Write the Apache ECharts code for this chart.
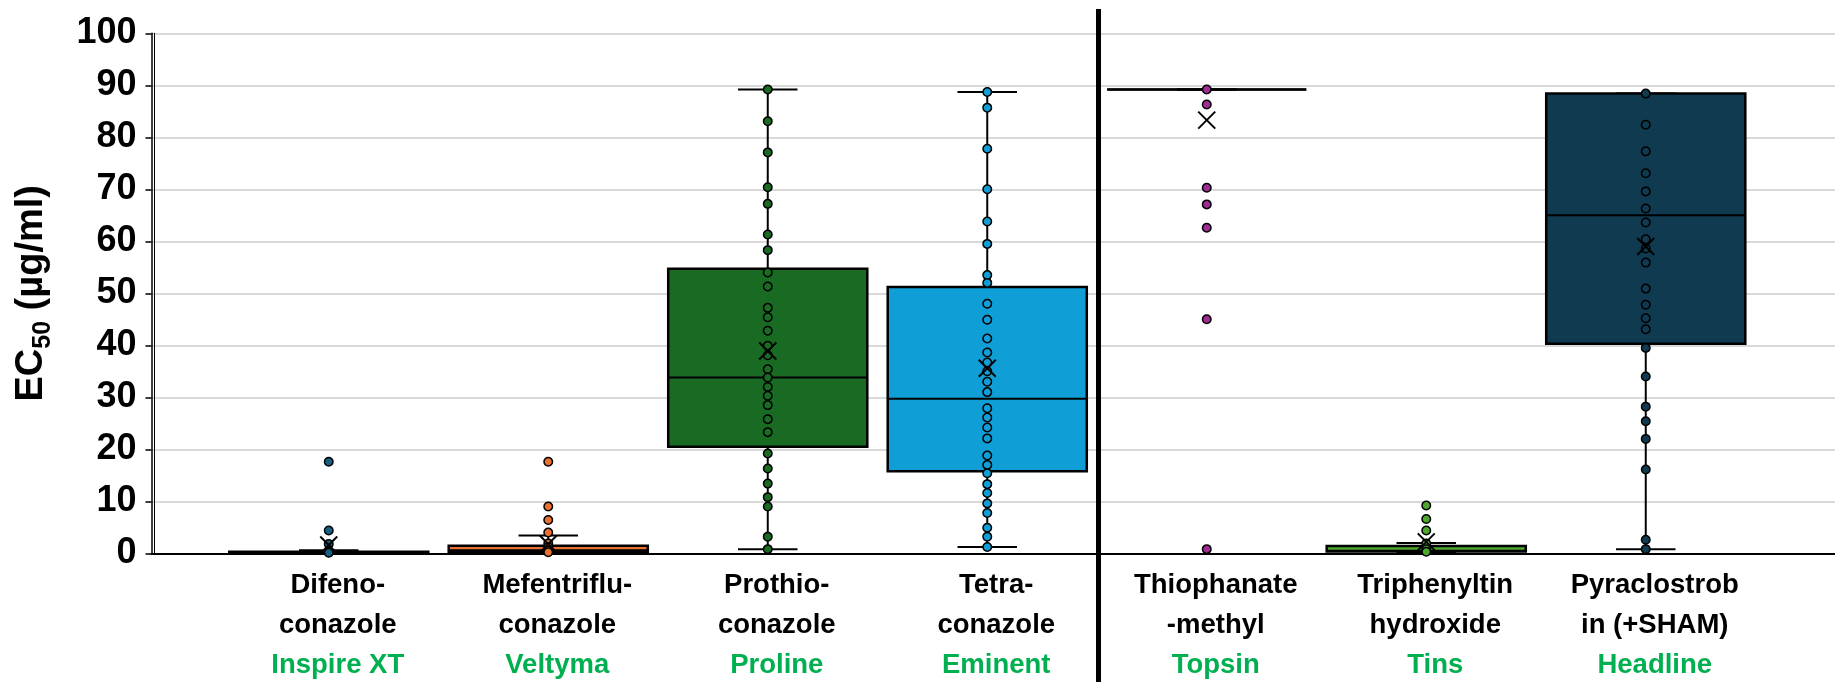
<!DOCTYPE html>
<html>
<head>
<meta charset="utf-8">
<script src="https://cdn.jsdelivr.net/npm/echarts@6/dist/echarts.min.js"></script>
<style>
  html, body { margin: 0; padding: 0; background: #fff; }
  #chart { width: 1835px; height: 682px; }
</style>
</head>
<body>
<div id="chart"></div>
<script>
// Fungicide names (two lines each) and their trade names
const categories = [
  'Difeno-\nconazole', 'Mefentriflu-\nconazole', 'Prothio-\nconazole', 'Tetra-\nconazole',
  'Thiophanate\n-methyl', 'Triphenyltin\nhydroxide', 'Pyraclostrob\nin (+SHAM)'
];
const tradeNames = ['Inspire XT', 'Veltyma', 'Proline', 'Eminent', 'Topsin', 'Tins', 'Headline'];
const colors = ['#156082', '#E97132', '#196B24', '#0F9ED5', '#A02B93', '#4EA72E', '#0F3A4F'];

// Box statistics per fungicide: [lower whisker, Q1, median, Q3, upper whisker]
const boxStats = [
  [0.05, 0.15, 0.25, 0.3, 0.6],
  [0.05, 0.2, 0.6, 1.45, 3.4],
  [0.8, 20.5, 33.8, 54.7, 89.2],
  [1.2, 15.8, 29.7, 51.2, 88.7],
  [89.2, 89.2, 89.2, 89.2, 89.2],
  [0.1, 0.35, 0.5, 1.4, 2.0],
  [0.8, 40.3, 65.0, 88.4, 88.4]
];
// Mean EC50 per fungicide
const means = [1.6, 1.8, 38.9, 35.6, 83.3, 2.2, 59.0];

// Individual isolate EC50 values (µg/ml)
const difenoconazole = [17.6, 4.4, 1.8, 0.3, 0.2, 0.1];
const mefentrifluconazole = [17.6, 9.0, 6.4, 4.0, 1.9, 1.2, 0.5, 0.2];
const prothioconazole = [89.2, 83.1, 77.1, 70.4, 67.2, 61.3, 58.3, 54.0, 51.3, 47.2, 45.4, 42.8, 39.9, 38.1,
  35.4, 33.8, 32.0, 30.3, 28.5, 25.8, 23.3, 19.2, 16.3, 13.4, 10.8, 9.0, 3.2, 0.8];
const tetraconazole = [88.7, 85.7, 77.8, 70.0, 63.8, 59.5, 53.5, 52.0, 48.0, 44.9, 41.3, 38.6, 36.7, 35.0,
  33.0, 31.0, 27.9, 26.1, 24.2, 22.1, 18.8, 17.0, 15.4, 13.3, 11.6, 9.6, 7.75, 4.9, 3.2, 1.2];
const thiophanateMethyl = [89.2, 86.3, 70.3, 67.1, 62.6, 45.0, 0.8];
const triphenyltin = [9.2, 6.6, 4.4, 1.9, 0.8, 0.3];
const pyraclostrobin = [88.4, 82.4, 77.3, 73.1, 69.6, 66.3, 63.6, 60.4, 58.6, 55.9, 50.9, 47.8, 45.2, 43.1,
  39.5, 34.0, 28.2, 25.4, 22.0, 16.1, 2.6, 0.8];

const yTicks = { min: 0, max: 100, interval: 10 };

const isolateSets = [difenoconazole, mefentrifluconazole, prothioconazole, tetraconazole,
  thiophanateMethyl, triphenyltin, pyraclostrobin];

const FONT = '"Liberation Sans", Arial, sans-serif';

const boxData = boxStats.map((s, i) => [i].concat(s));
const meanData = means.map((m, i) => [i, m]);
const pointData = [];
isolateSets.forEach((set, i) => set.forEach(v => pointData.push([i, v])));

function renderBox(params, api) {
  const i = api.value(0);
  const lo = api.value(1), q1 = api.value(2), med = api.value(3), q3 = api.value(4), hi = api.value(5);
  const band = api.size([1, 0])[0];
  const half = band * 0.907 / 2;
  const capHalf = band * 0.271 / 2;
  const x = api.coord([i, 0])[0];
  const y = v => api.coord([i, v])[1];
  const stroke = { stroke: '#000', lineWidth: 2 };
  const seg = (x1, y1, x2, y2) => ({ type: 'line', shape: { x1, y1, x2, y2 }, style: stroke });
  const children = [];
  if (hi > q3) children.push(seg(x, y(hi), x, y(q3)));
  if (lo < q1) children.push(seg(x, y(q1), x, y(lo)));
  children.push(seg(x - capHalf, y(hi), x + capHalf, y(hi)));
  children.push(seg(x - capHalf, y(lo), x + capHalf, y(lo)));
  children.push({
    type: 'rect',
    shape: { x: x - half, y: y(q3), width: half * 2, height: y(q1) - y(q3) },
    style: { fill: colors[i], stroke: '#000', lineWidth: 2.5 }
  });
  children.push(seg(x - half, y(med), x + half, y(med)));
  return { type: 'group', children };
}

function renderMean(params, api) {
  const p = api.coord([api.value(0), api.value(1)]);
  const r = 8.5;
  const st = { stroke: '#000', lineWidth: 2 };
  return {
    type: 'group',
    children: [
      { type: 'line', shape: { x1: p[0] - r, y1: p[1] - r, x2: p[0] + r, y2: p[1] + r }, style: st },
      { type: 'line', shape: { x1: p[0] + r, y1: p[1] - r, x2: p[0] - r, y2: p[1] + r }, style: st }
    ]
  };
}

const chart = echarts.init(document.getElementById('chart'), null, { renderer: 'canvas' });

const option = {
  backgroundColor: '#fff',
  animation: false,
  grid: [
    { left: 151.5, right: 0, top: 33.3, bottom: 128.7 },
    { left: 219, right: 79.5, top: 33.3, bottom: 128.7 }
  ],
  xAxis: [
    {
      gridIndex: 0, type: 'value', min: 0, max: 1, offset: 2,
      axisLine: { show: true, lineStyle: { color: '#000', width: 2 } },
      axisTick: { show: false }, axisLabel: { show: false }, splitLine: { show: false }
    },
    {
      gridIndex: 1, type: 'category', data: categories,
      axisLine: { show: false }, axisTick: { show: false }, splitLine: { show: false },
      axisLabel: {
        interval: 0, margin: 12, padding: [0, 0, 0, 18],
        formatter: (v, idx) => '{n|' + categories[idx] + '}\n{t|' + tradeNames[idx] + '}',
        rich: {
          n: { fontFamily: FONT, fontSize: 27.5, fontWeight: 'bold', color: '#000', lineHeight: 40, align: 'center' },
          t: { fontFamily: FONT, fontSize: 27.5, fontWeight: 'bold', color: '#00B050', lineHeight: 41, align: 'center' }
        }
      }
    }
  ],
  yAxis: [
    {
      gridIndex: 0, type: 'value', position: 'left',
      min: yTicks.min, max: yTicks.max, interval: yTicks.interval,
      name: '{m|EC}{s|50}{m| (µg/ml)}',
      nameLocation: 'middle', nameGap: 96,
      nameTextStyle: {
        fontFamily: FONT, fontWeight: 'bold', color: '#000',
        rich: {
          m: { fontFamily: FONT, fontSize: 38, fontWeight: 'bold', color: '#000', lineHeight: 48 },
          s: { fontFamily: FONT, fontSize: 25, fontWeight: 'bold', color: '#000', lineHeight: 24, verticalAlign: 'bottom' }
        }
      },
      axisLine: { show: true, lineStyle: { color: '#000', width: 1.5 } },
      axisTick: { show: true, length: 6, lineStyle: { color: '#000', width: 1.5 } },
      axisLabel: { fontFamily: FONT, fontSize: 36, fontWeight: 'bold', color: '#000', margin: 15 },
      splitLine: { show: true, lineStyle: { color: '#d9d9d9', width: 2 } }
    },
    {
      gridIndex: 0, type: 'value', position: 'left', offset: -3,
      min: yTicks.min, max: yTicks.max,
      axisLine: { show: true, onZero: false, lineStyle: { color: '#000', width: 1 } },
      axisTick: { show: false }, axisLabel: { show: false }, splitLine: { show: false }
    },
    {
      gridIndex: 1, type: 'value', min: yTicks.min, max: yTicks.max, show: false
    }
  ],
  series: [
    {
      type: 'custom', name: 'box', xAxisIndex: 1, yAxisIndex: 2, z: 2, clip: false,
      renderItem: renderBox, data: boxData,
      encode: { x: 0, y: [1, 2, 3, 4, 5] }
    },
    {
      type: 'scatter', name: 'isolates', xAxisIndex: 1, yAxisIndex: 2, z: 3,
      symbol: 'circle', symbolSize: 8.5, data: pointData,
      itemStyle: { color: p => colors[p.value[0]], borderColor: '#000', borderWidth: 1.5, opacity: 1 }
    },
    {
      type: 'custom', name: 'mean', xAxisIndex: 1, yAxisIndex: 2, z: 4, clip: false,
      renderItem: renderMean, data: meanData,
      encode: { x: 0, y: 1 }
    }
  ]
};

chart.setOption(option);

// Vertical separator between the DMI group and the other fungicides
const xa = chart.convertToPixel({ xAxisIndex: 1 }, 3);
const xb = chart.convertToPixel({ xAxisIndex: 1 }, 4);
const xSep = (xa + xb) / 2 + 1.5;
chart.setOption({
  graphic: [{
    type: 'line', z: 100,
    shape: { x1: xSep, y1: 9, x2: xSep, y2: 682 },
    style: { stroke: '#000', lineWidth: 5 }
  }]
});
</script>
</body>
</html>
